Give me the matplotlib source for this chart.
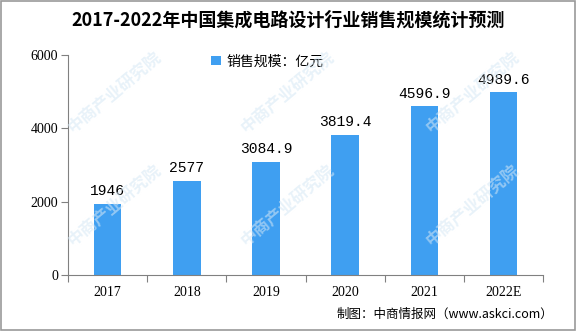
import matplotlib
matplotlib.use("Agg")
import matplotlib.pyplot as plt
from matplotlib.patches import Rectangle

plt.rcParams['font.family'] = ['Noto Sans CJK SC', 'DejaVu Sans']

years = ["2017", "2018", "2019", "2020", "2021", "2022E"]
sales = [1946, 2577, 3084.9, 3819.4, 4596.9, 4989.6]
value_labels = ["1946", "2577", "3084.9", "3819.4", "4596.9", "4989.6"]
yticks = [0, 2000, 4000, 6000]

title = "2017-2022年中国集成电路设计行业销售规模统计预测"
legend_label = "销售规模：亿元"
source = "制图：中商情报网（www.askci.com）"
watermark = "中商产业研究院"

bar_color = "#3f9ff1"
axis_color = "#808080"

fig = plt.figure(figsize=(5.76, 3.31), dpi=100)
ax = fig.add_axes([0.118, 0.169, 0.825, 0.665])

# faint diagonal watermark tiles
for wx, wy in [(0.20, 0.72), (0.50, 0.72), (0.82, 0.72),
               (0.20, 0.38), (0.50, 0.38), (0.82, 0.38)]:
    fig.text(wx, wy, watermark, rotation=40, fontsize=12, color="#d6e8f5",
             alpha=0.55, ha="center", va="center", fontweight="bold", zorder=0)

x = list(range(len(years)))
bars = ax.bar(x, sales, width=0.35, color=bar_color, zorder=2, label=legend_label)
for xi, v, lab in zip(x, sales, value_labels):
    ax.text(xi, v + 150, lab, ha="center", va="bottom", fontsize=10.5,
            family=["Liberation Mono", "DejaVu Sans Mono"], color="black")

ax.set_xlim(-0.5, len(years) - 0.5)
ax.set_ylim(0, 6000)
ax.set_yticks(yticks)
ax.set_yticklabels([str(t) for t in yticks], family=["Liberation Serif"], fontsize=10)
ax.set_xticks([i - 0.5 for i in range(len(years) + 1)], minor=False)
ax.set_xticklabels([""] * (len(years) + 1))
ax.set_xticks(x, minor=True)
ax.set_xticklabels(years, minor=True, family=["Liberation Serif"], fontsize=10)
ax.tick_params(axis="x", which="minor", length=0, pad=8)
ax.tick_params(axis="x", which="major", length=5, color=axis_color)
ax.tick_params(axis="y", length=5, color=axis_color, pad=2)

for s in ["top", "right"]:
    ax.spines[s].set_visible(False)
for s in ["left", "bottom"]:
    ax.spines[s].set_color(axis_color)
ax.patch.set_alpha(0)

fig.text(0.5, 0.94, title, ha="center", va="center", fontsize=13,
         fontweight="bold", color="black")
ax.legend(loc="upper center", bbox_to_anchor=(0.42, 1.06), frameon=False,
          fontsize=10, handlelength=0.7, handleheight=0.7, handletextpad=0.4)
fig.text(0.96, 0.05, source, ha="right", va="center", fontsize=9, color="black")

fig.add_artist(Rectangle((0.001, 0.002), 0.997, 0.995, transform=fig.transFigure,
                         fill=False, edgecolor="#999999", linewidth=1.2))

fig.savefig("out.png", dpi=100)
